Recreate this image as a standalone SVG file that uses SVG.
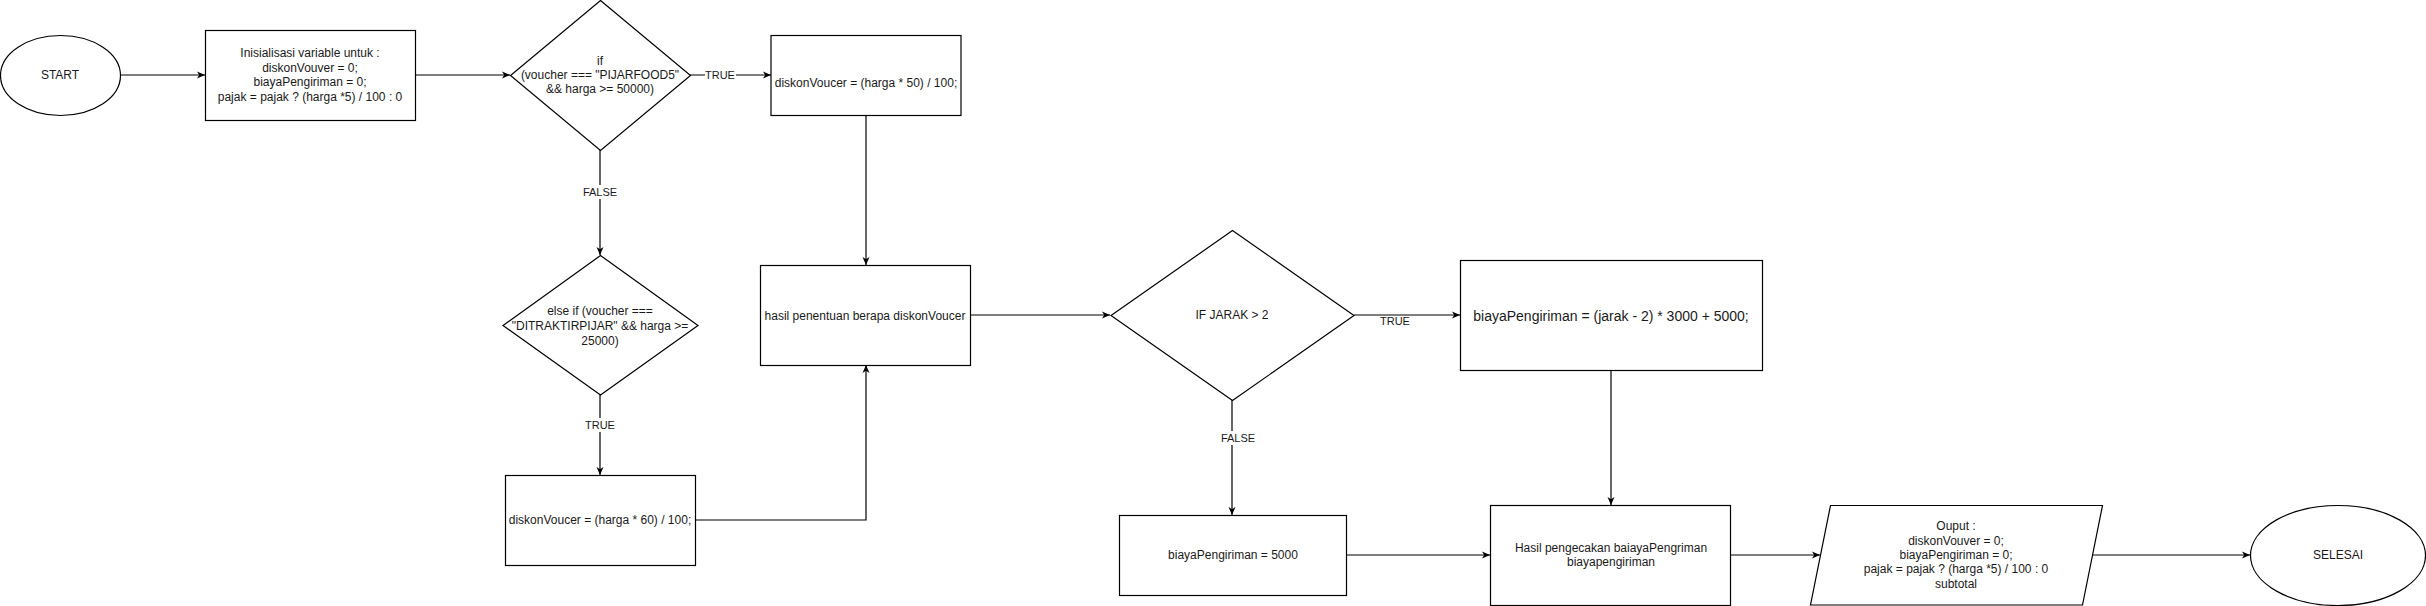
<svg xmlns="http://www.w3.org/2000/svg" width="2426" height="606" viewBox="0 0 2426 606">
<defs>
<marker id="arr" markerUnits="userSpaceOnUse" markerWidth="9" markerHeight="8" refX="8" refY="4" orient="auto">
<path d="M0,0.5 L8,4 L0,7.5 L2.2,4 z" fill="#000"/>
</marker>
<style>
.n{fill:#fff;stroke:#000;stroke-width:1.2}
.e{fill:none;stroke:#000;stroke-width:1.2;marker-end:url(#arr)}
.l{fill:none;stroke:#000;stroke-width:1.2}
text{font-family:"Liberation Sans",Arial,sans-serif;font-size:12px;fill:#1a1a1a;text-anchor:middle;dominant-baseline:central}
.lb{font-size:11px}
.bg{fill:#fff}
</style>
</defs>
<g id="connectors">
<path class="e" d="M121,75 L205,75"/>
<path class="e" d="M415,75 L510,75"/>
<path class="e" d="M690,75 L771,75"/>
<path class="e" d="M600,150 L600,255"/>
<path class="e" d="M600,395 L600,475"/>
<path class="e" d="M866,115 L866,265"/>
<path class="e" d="M695,520 L866,520 L866,365"/>
<path class="e" d="M970,315 L1110,315"/>
<path class="e" d="M1354,315 L1460,315"/>
<path class="e" d="M1232,400 L1232,515"/>
<path class="e" d="M1611,370 L1611,505"/>
<path class="e" d="M1346,555 L1490,555"/>
<path class="e" d="M1730,555 L1820,555"/>
<path class="e" d="M2092,555 L2250,555"/>
<rect class="bg" x="705" y="68" width="31" height="14"/>
<text class="lb" x="720" y="75">TRUE</text>
<rect class="bg" x="583" y="185" width="35" height="14"/>
<text class="lb" x="600" y="192">FALSE</text>
<rect class="bg" x="585" y="418" width="31" height="14"/>
<text class="lb" x="600" y="425">TRUE</text>
<rect class="bg" x="1221" y="431" width="35" height="14"/>
<text class="lb" x="1238" y="438">FALSE</text>
<text class="lb" x="1395" y="321">TRUE</text>
</g>
<g id="start">
<ellipse class="n" cx="60.5" cy="75.5" rx="60" ry="40"/>
<text x="60" y="75">START</text>
</g>
<g id="init">
<rect class="n" x="205.5" y="30.5" width="210" height="90"/>
<text x="310" y="53.4">Inisialisasi variable untuk :</text>
<text x="310" y="67.8">diskonVouver = 0;</text>
<text x="310" y="82.2">biayaPengiriman = 0;</text>
<text x="310" y="96.6">pajak = pajak ? (harga *5) / 100 : 0</text>
</g>
<g id="if1">
<polygon class="n" points="600.5,0.5 690.5,75.5 600.5,150.5 510.5,75.5"/>
<text x="600" y="60.6">if</text>
<text x="600" y="75">(voucher === "PIJARFOOD5"</text>
<text x="600" y="89.4">&amp;&amp; harga &gt;= 50000)</text>
</g>
<g id="diskon50">
<rect class="n" x="771" y="35.5" width="190" height="80"/>
<text x="866" y="83">diskonVoucer = (harga * 50) / 100;</text>
</g>
<g id="if2">
<polygon class="n" points="600.5,255.5 698,325.5 600.5,395 503,325.5"/>
<text x="600" y="311.1">else if (voucher ===</text>
<text x="600" y="325.5">"DITRAKTIRPIJAR" &amp;&amp; harga &gt;=</text>
<text x="600" y="340.5">25000)</text>
</g>
<g id="diskon60">
<rect class="n" x="505.5" y="475.5" width="190" height="90"/>
<text x="600" y="520">diskonVoucer = (harga * 60) / 100;</text>
</g>
<g id="hasil1">
<rect class="n" x="760.5" y="265.5" width="210" height="100"/>
<text x="865" y="316">hasil penentuan berapa diskonVoucer</text>
</g>
<g id="if3">
<polygon class="n" points="1232.5,230.5 1354,315.5 1232.5,400.5 1111,315.5"/>
<text x="1232" y="315">IF JARAK &gt; 2</text>
</g>
<g id="biayaTrue">
<rect class="n" x="1460.5" y="260.5" width="302" height="110"/>
<text x="1611" y="316" style="font-size:14px">biayaPengiriman = (jarak - 2) * 3000 + 5000;</text>
</g>
<g id="biayaFalse">
<rect class="n" x="1119.5" y="515.5" width="227" height="80"/>
<text x="1233" y="555">biayaPengiriman = 5000</text>
</g>
<g id="hasil2">
<rect class="n" x="1490.5" y="505.5" width="240" height="100"/>
<text x="1611" y="547.8">Hasil pengecakan baiayaPengriman</text>
<text x="1611" y="562.2">biayapengiriman</text>
</g>
<g id="output">
<polygon class="n" points="1830.5,505.5 2102.5,505.5 2082.5,605 1810.5,605"/>
<text x="1956" y="526.2">Ouput :</text>
<text x="1956" y="540.6">diskonVouver = 0;</text>
<text x="1956" y="555">biayaPengiriman = 0;</text>
<text x="1956" y="569.4">pajak = pajak ? (harga *5) / 100 : 0</text>
<text x="1956" y="583.8">subtotal</text>
</g>
<g id="selesai">
<ellipse class="n" cx="2338" cy="555.5" rx="87.5" ry="50"/>
<text x="2338" y="555">SELESAI</text>
</g>
</svg>
